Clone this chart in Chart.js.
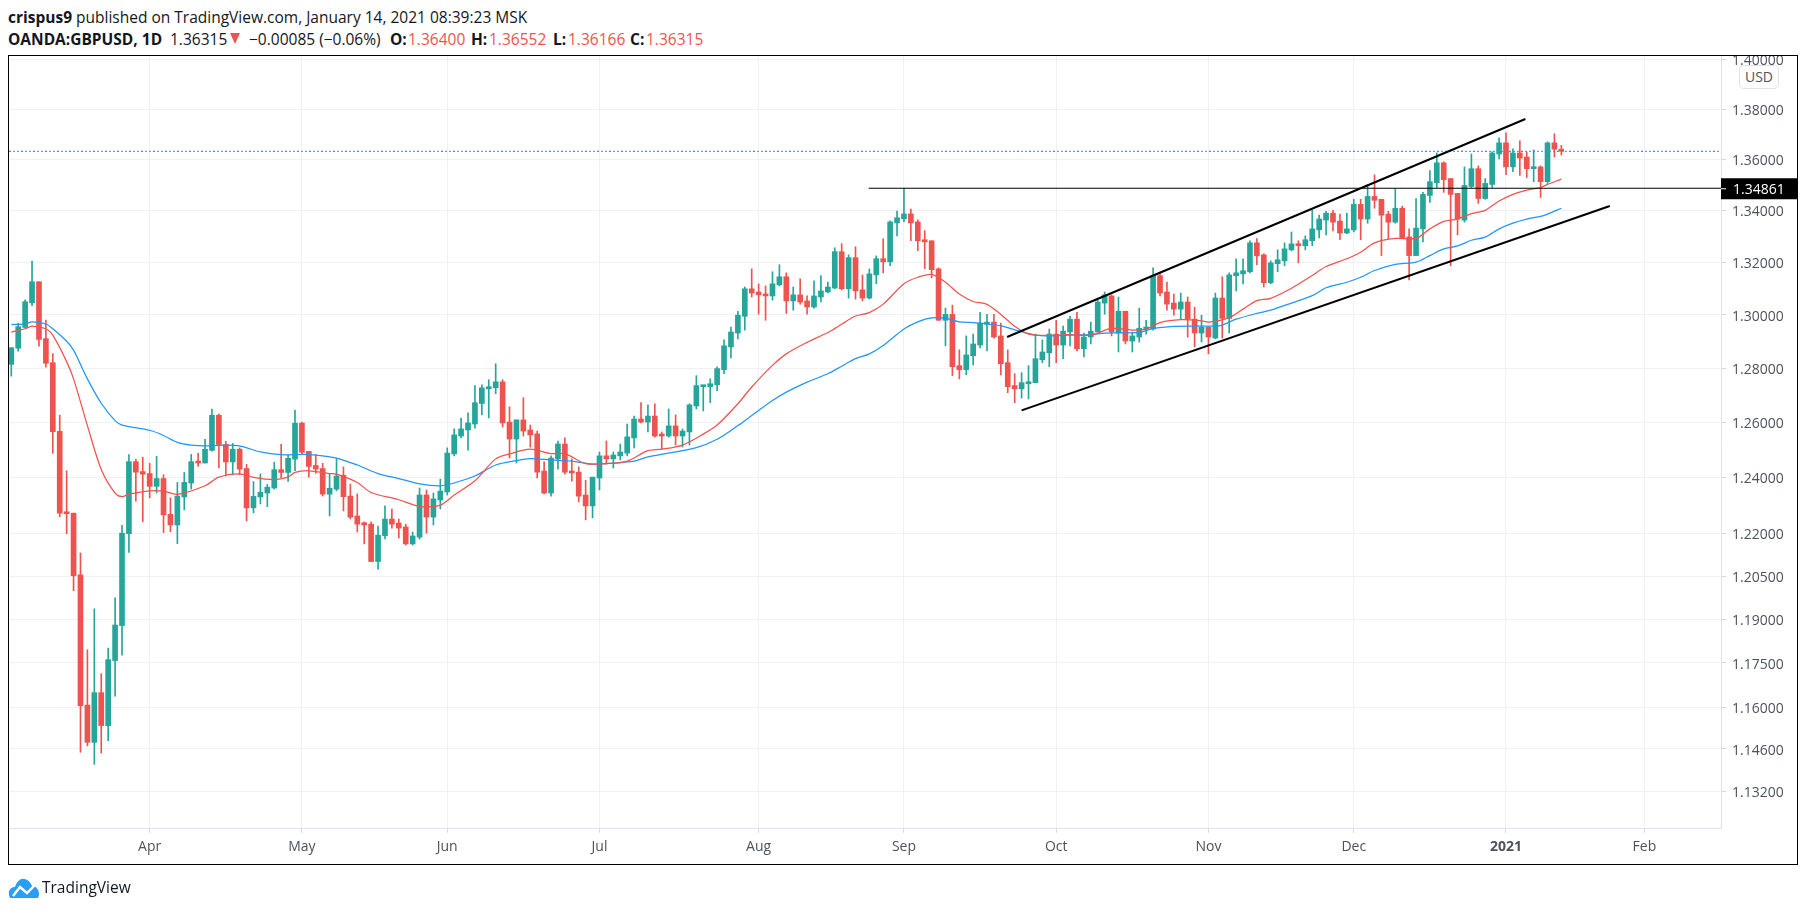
<!DOCTYPE html>
<html>
<head>
<meta charset="utf-8">
<title>GBPUSD</title>
<script src="https://cdn.jsdelivr.net/npm/chart.js@4/dist/chart.umd.min.js"></script>
<style>
html, body { margin: 0; padding: 0; background: #fff; width: 1805px; height: 911px; overflow: hidden; }
body { font-family: "Open Sans", sans-serif; color: #131722; position: relative; }
#chartBox { position: absolute; left: 0; top: 0; width: 1805px; height: 911px; }
#header { position: absolute; left: 0; top: 0; width: 1805px; height: 55px; background: #fff; font-size: 15.5px; white-space: nowrap; }
#line1 { position: absolute; left: 8px; top: 6px; }
#line2 span, #line2 b { position: absolute; top: 28px; }
#header b { font-weight: 700; }
.neg { color: #ef5350; }
#line2 .tri { top: 33px; width: 0; height: 0; border-left: 5px solid transparent; border-right: 5px solid transparent; border-top: 11px solid #ef5350; }
#frame { position: absolute; left: 8px; top: 55px; width: 1788px; height: 808px; border: 1px solid #000; pointer-events: none; }
#usd { position: absolute; left: 1739px; top: 65px; width: 38px; height: 22px; border: 1px solid #e0e3eb; border-radius: 5px; background: #fff; color: #4c525e; font-size: 14px; line-height: 22px; text-align: center; }
#logo { position: absolute; left: 8px; top: 876px; height: 22px; }
#logo svg { position: absolute; left: 0; top: 2px; }
#logo span { position: absolute; left: 34px; top: 0; font-size: 15.5px; line-height: 22px; color: #131722; }
</style>
</head>
<body>
<div id="chartBox"><canvas id="chart" width="1805" height="911"></canvas></div>
<div id="header">
  <div id="line1"><b>crispus9</b> published on TradingView.com, January 14, 2021 08:39:23 MSK</div>
  <div id="line2">
    <b style="left:8px">OANDA:GBPUSD, 1D</b>
    <span style="left:170px">1.36315</span>
    <span class="tri" style="left:230px"></span>
    <span style="left:249px">&minus;0.00085 (&minus;0.06%)</span>
    <b style="left:390px">O:</b><span class="neg" style="left:408px">1.36400</span>
    <b style="left:471px">H:</b><span class="neg" style="left:489px">1.36552</span>
    <b style="left:553px">L:</b><span class="neg" style="left:568px">1.36166</span>
    <b style="left:630px">C:</b><span class="neg" style="left:646px">1.36315</span>
  </div>
</div>
<div id="frame"></div>
<div id="usd">USD</div>
<div id="logo">
  <svg width="32" height="20" viewBox="0 0 32 20"><path d="M2 20 C-1 14 2 9 7 9 C9 3 13 0 16 1 C20 1 23 5 24 8 C29 8 33 14 30 20 Z" fill="#2a9df4"/><path d="M5 18 L12 9 L19 15 L27 7" fill="none" stroke="#fff" stroke-width="2.4"/></svg>
  <span>TradingView</span>
</div>
<script>
const opens = [
  1.2814,1.2874,1.2952,1.3045,1.3125,1.2910,1.2820,1.2567,1.2276,1.2272,
  1.2054,1.1607,1.1482,1.1649,1.1538,1.1758,1.1878,1.2199,1.2457,1.2421,
  1.2414,1.2368,1.2396,1.2268,1.2230,1.2330,1.2380,1.2457,1.2452,1.2498,
  1.2626,1.2519,1.2456,1.2502,1.2432,1.2291,1.2330,1.2344,1.2362,1.2428,
  1.2418,1.2466,1.2597,1.2494,1.2443,1.2432,1.2340,1.2358,1.2408,1.2333,
  1.2262,1.2238,1.2233,1.2101,1.2192,1.2251,1.2237,1.2223,1.2163,1.2187,
  1.2337,1.2258,1.2319,1.2348,1.2485,1.2550,1.2572,1.2594,1.2669,1.2723,
  1.2727,1.2749,1.2601,1.2539,1.2609,1.2572,1.2558,1.2423,1.2344,1.2467,
  1.2521,1.2423,1.2419,1.2337,1.2298,1.2398,1.2478,1.2467,1.2478,1.2488,
  1.2543,1.2612,1.2601,1.2623,1.2554,1.2550,1.2587,1.2550,1.2565,1.2660,
  1.2731,1.2731,1.2738,1.2794,1.2879,1.2931,1.2994,1.3098,1.3086,1.3078,
  1.3071,1.3113,1.3144,1.3052,1.3075,1.3052,1.3029,1.3067,1.3086,1.3101,
  1.3240,1.3098,1.3217,1.3094,1.3063,1.3151,1.3213,1.3201,1.3351,1.3367,
  1.3386,1.3355,1.3286,1.3282,1.3174,1.2979,1.3001,1.2809,1.2794,1.2846,
  1.2886,1.2964,1.2972,1.2920,1.2820,1.2735,1.2723,1.2742,1.2746,1.2831,
  1.2857,1.2927,1.2886,1.2935,1.2983,1.2872,1.2916,1.2935,1.3044,1.3071,
  1.2931,1.3013,1.2901,1.2916,1.2946,1.2946,1.3148,1.3086,1.3044,1.3021,
  1.3048,1.2983,1.2931,1.2953,1.2912,1.3063,1.2986,1.3148,1.3155,1.3163,
  1.3274,1.3228,1.3121,1.3194,1.3205,1.3247,1.3270,1.3263,1.3282,1.3324,
  1.3362,1.3389,1.3358,1.3312,1.3324,1.3423,1.3366,1.3454,1.3443,1.3385,
  1.3354,1.3408,1.3297,1.3225,1.3328,1.3458,1.3508,1.3586,1.3524,1.3466,
  1.3362,1.3493,1.3563,1.3446,1.3501,1.3621,1.3665,1.3570,1.3625,1.3609,
  1.3563,1.3570,1.3512,1.3665,1.3640
];
const highs = [
  1.2876,1.2968,1.3056,1.3204,1.3125,1.2980,1.2854,1.2626,1.2424,1.2272,
  1.2131,1.1795,1.1936,1.1713,1.1801,1.1974,1.2229,1.2483,1.2465,1.2473,
  1.2451,1.2476,1.2410,1.2327,1.2382,1.2418,1.2483,1.2487,1.2538,1.2649,
  1.2630,1.2531,1.2523,1.2507,1.2447,1.2385,1.2413,1.2375,1.2455,1.2520,
  1.2481,1.2645,1.2601,1.2494,1.2483,1.2451,1.2414,1.2468,1.2438,1.2376,
  1.2341,1.2241,1.2241,1.2226,1.2298,1.2287,1.2251,1.2233,1.2205,1.2362,
  1.2355,1.2344,1.2394,1.2507,1.2576,1.2616,1.2635,1.2735,1.2738,1.2757,
  1.2816,1.2757,1.2657,1.2609,1.2690,1.2590,1.2568,1.2456,1.2478,1.2532,
  1.2543,1.2467,1.2438,1.2390,1.2401,1.2492,1.2532,1.2492,1.2521,1.2594,
  1.2623,1.2672,1.2664,1.2668,1.2565,1.2649,1.2627,1.2576,1.2668,1.2772,
  1.2735,1.2760,1.2805,1.2905,1.2953,1.3013,1.3105,1.3174,1.3117,1.3109,
  1.3163,1.3190,1.3159,1.3105,1.3136,1.3071,1.3128,1.3148,1.3124,1.3255,
  1.3271,1.3228,1.3259,1.3151,1.3174,1.3224,1.3290,1.3359,1.3397,1.3486,
  1.3405,1.3363,1.3321,1.3282,1.3178,1.3025,1.3036,1.2868,1.2920,1.2927,
  1.3009,1.3001,1.3001,1.2968,1.2868,1.2779,1.2783,1.2809,1.2927,1.2905,
  1.2946,1.2979,1.2957,1.2994,1.3009,1.2931,1.2972,1.3055,1.3086,1.3075,
  1.3067,1.3013,1.2935,1.3025,1.2979,1.3178,1.3159,1.3124,1.3078,1.3082,
  1.3067,1.3028,1.2998,1.2953,1.3082,1.3144,1.3159,1.3213,1.3213,1.3282,
  1.3290,1.3232,1.3205,1.3247,1.3274,1.3316,1.3282,1.3301,1.3400,1.3381,
  1.3396,1.3400,1.3385,1.3389,1.3443,1.3443,1.3501,1.3539,1.3443,1.3396,
  1.3484,1.3416,1.3328,1.3446,1.3470,1.3555,1.3625,1.3590,1.3524,1.3466,
  1.3570,1.3621,1.3574,1.3524,1.3629,1.3685,1.3705,1.3641,1.3673,1.3629,
  1.3637,1.3574,1.3669,1.3701,1.36552
];
const lows = [
  1.2770,1.2863,1.2952,1.3034,1.2882,1.2803,1.2487,1.2259,1.2199,1.1999,
  1.1449,1.1470,1.1409,1.1446,1.1488,1.1637,1.1776,1.2133,1.2315,1.2242,
  1.2327,1.2344,1.2203,1.2206,1.2164,1.2284,1.2358,1.2440,1.2452,1.2495,
  1.2434,1.2405,1.2409,1.2410,1.2244,1.2273,1.2305,1.2295,1.2358,1.2399,
  1.2386,1.2424,1.2486,1.2401,1.2415,1.2333,1.2262,1.2352,1.2280,1.2251,
  1.2205,1.2163,1.2101,1.2074,1.2181,1.2219,1.2184,1.2159,1.2159,1.2180,
  1.2201,1.2230,1.2287,1.2337,1.2478,1.2543,1.2499,1.2579,1.2627,1.2616,
  1.2705,1.2583,1.2470,1.2452,1.2550,1.2510,1.2398,1.2341,1.2333,1.2430,
  1.2412,1.2387,1.2312,1.2248,1.2255,1.2355,1.2448,1.2434,1.2463,1.2478,
  1.2507,1.2598,1.2565,1.2546,1.2502,1.2546,1.2517,1.2510,1.2517,1.2649,
  1.2642,1.2672,1.2716,1.2779,1.2838,1.2909,1.2942,1.3067,1.3002,1.2979,
  1.3055,1.3109,1.3005,1.3017,1.3040,1.3002,1.3025,1.3048,1.3082,1.3098,
  1.3094,1.3063,1.3059,1.3052,1.3059,1.3117,1.3159,1.3186,1.3301,1.3355,
  1.3282,1.3244,1.3174,1.3140,1.2979,1.2883,1.2772,1.2760,1.2775,1.2812,
  1.2875,1.2864,1.2912,1.2775,1.2709,1.2672,1.2689,1.2686,1.2746,1.2820,
  1.2805,1.2820,1.2835,1.2883,1.2864,1.2842,1.2890,1.2935,1.3002,1.2920,
  1.2860,1.2890,1.2860,1.2897,1.2927,1.2942,1.3071,1.3017,1.2998,1.2983,
  1.2916,1.2879,1.2897,1.2853,1.2909,1.2912,1.2931,1.3090,1.3117,1.3159,
  1.3190,1.3105,1.3117,1.3163,1.3186,1.3243,1.3197,1.3247,1.3263,1.3293,
  1.3305,1.3320,1.3286,1.3309,1.3316,1.3286,1.3350,1.3408,1.3225,1.3290,
  1.3350,1.3290,1.3132,1.3225,1.3278,1.3431,1.3489,1.3470,1.3186,1.3305,
  1.3354,1.3489,1.3427,1.3443,1.3489,1.3601,1.3539,1.3551,1.3536,1.3528,
  1.3512,1.3450,1.3505,1.3609,1.36166
];
const closes = [
  1.2876,1.2955,1.3049,1.3125,1.2907,1.2818,1.2566,1.2272,1.2270,1.2051,
  1.1605,1.1482,1.1649,1.1538,1.1761,1.1880,1.2201,1.2457,1.2419,1.2412,
  1.2368,1.2396,1.2266,1.2230,1.2333,1.2382,1.2457,1.2452,1.2502,1.2626,
  1.2519,1.2456,1.2502,1.2430,1.2291,1.2332,1.2347,1.2365,1.2428,1.2418,
  1.2469,1.2597,1.2491,1.2440,1.2430,1.2340,1.2361,1.2405,1.2331,1.2258,
  1.2233,1.2230,1.2101,1.2194,1.2251,1.2233,1.2219,1.2163,1.2191,1.2337,
  1.2258,1.2323,1.2351,1.2488,1.2554,1.2576,1.2598,1.2672,1.2727,1.2731,
  1.2749,1.2598,1.2539,1.2609,1.2568,1.2554,1.2419,1.2344,1.2470,1.2521,
  1.2419,1.2416,1.2333,1.2298,1.2401,1.2478,1.2467,1.2481,1.2492,1.2547,
  1.2612,1.2601,1.2623,1.2550,1.2550,1.2587,1.2550,1.2568,1.2664,1.2735,
  1.2735,1.2742,1.2798,1.2883,1.2935,1.2998,1.3098,1.3082,1.3075,1.3071,
  1.3117,1.3144,1.3052,1.3075,1.3048,1.3029,1.3071,1.3090,1.3105,1.3240,
  1.3098,1.3217,1.3090,1.3063,1.3155,1.3213,1.3201,1.3355,1.3371,1.3386,
  1.3351,1.3282,1.3278,1.3171,1.2979,1.3001,1.2805,1.2794,1.2849,1.2890,
  1.2968,1.2972,1.2916,1.2816,1.2731,1.2723,1.2746,1.2749,1.2835,1.2860,
  1.2927,1.2886,1.2938,1.2983,1.2872,1.2916,1.2938,1.3048,1.3075,1.2935,
  1.3013,1.2901,1.2920,1.2949,1.2949,1.3148,1.3082,1.3040,1.3021,1.3048,
  1.2983,1.2931,1.2953,1.2916,1.3063,1.2986,1.3151,1.3159,1.3167,1.3274,
  1.3224,1.3121,1.3197,1.3209,1.3251,1.3270,1.3263,1.3286,1.3328,1.3366,
  1.3389,1.3354,1.3312,1.3328,1.3423,1.3366,1.3454,1.3439,1.3381,1.3354,
  1.3408,1.3293,1.3225,1.3331,1.3462,1.3512,1.3586,1.3520,1.3462,1.3366,
  1.3497,1.3563,1.3446,1.3505,1.3625,1.3665,1.3570,1.3625,1.3605,1.3563,
  1.3570,1.3512,1.3665,1.3640,1.36315
];

// moving averages, read at these bar numbers
const redBars = [0,2,3,5,6,8,9,11,13,15,16,17,20,22,24,28,30,33,35,38,40,41,43,46,47,50,52,56,59,62,64,67,70,72,75,78,80,83,86,89,92,94,97,100,102,105,107,110,112,115,118,120,122,124,126,129,131,133,135,137,139,141,143,145,147,150,153,156,159,162,164,166,169,172,173,176,178,180,182,185,188,190,193,195,197,200,203,205,207,209,211,213,215,217,219,221,222,224];
const redLine = [1.2934,1.2947,1.2957,1.2947,1.2923,1.2824,1.2760,1.2588,1.2429,1.2344,1.2331,1.2340,1.2352,1.2351,1.2339,1.2370,1.2401,1.2413,1.2400,1.2392,1.2401,1.2418,1.2424,1.2414,1.2412,1.2382,1.2346,1.2320,1.2296,1.2301,1.2337,1.2388,1.2467,1.2485,1.2502,1.2486,1.2486,1.2450,1.2450,1.2459,1.2497,1.2502,1.2517,1.2557,1.2590,1.2668,1.2730,1.2810,1.2853,1.2896,1.2933,1.2964,1.2995,1.3008,1.3040,1.3117,1.3142,1.3153,1.3123,1.3078,1.3050,1.3039,1.3001,1.2956,1.2927,1.2922,1.2925,1.2923,1.2948,1.2942,1.2946,1.2970,1.2981,1.2977,1.2972,1.2989,1.3021,1.3053,1.3062,1.3100,1.3149,1.3183,1.3213,1.3238,1.3274,1.3291,1.3291,1.3328,1.3357,1.3366,1.3387,1.3400,1.3436,1.3462,1.3479,1.3489,1.3501,1.3522];
const blueBars = [0,2,3,5,6,8,9,11,13,15,16,20,22,24,26,28,31,33,36,39,42,44,47,50,53,56,59,62,64,67,70,73,75,78,81,84,87,90,92,99,102,105,107,110,112,115,118,120,122,124,126,129,131,133,135,137,139,141,143,145,148,150,153,156,158,160,163,165,168,171,174,175,177,180,182,185,188,190,193,195,197,200,203,205,207,209,211,213,215,217,219,221,222,224];
const blueLine = [1.2963,1.2965,1.2973,1.2965,1.2947,1.2900,1.2867,1.2760,1.2670,1.2606,1.2590,1.2571,1.2552,1.2527,1.2517,1.2514,1.2517,1.2514,1.2492,1.2482,1.2483,1.2481,1.2470,1.2445,1.2414,1.2396,1.2377,1.2370,1.2380,1.2405,1.2445,1.2461,1.2468,1.2463,1.2459,1.2448,1.2452,1.2459,1.2474,1.2508,1.2538,1.2588,1.2625,1.2680,1.2711,1.2748,1.2779,1.2807,1.2835,1.2853,1.2884,1.2946,1.2973,1.2988,1.2986,1.2973,1.2970,1.2965,1.2958,1.2943,1.2923,1.2920,1.2923,1.2925,1.2931,1.2932,1.2933,1.2948,1.2956,1.2957,1.2957,1.2961,1.2983,1.3005,1.3017,1.3044,1.3072,1.3102,1.3123,1.3142,1.3168,1.3191,1.3200,1.3225,1.3251,1.3262,1.3284,1.3296,1.3328,1.3350,1.3366,1.3376,1.3385,1.3408];

// hand drawn lines on the chart: [bar, price]
const upperChannel = [[143.9, 1.2916], [218.8, 1.3760]];
const lowerChannel = [[146, 1.2644], [231, 1.3417]];
const levelStartBar = 123.9;
const levelPrice = 1.34861;
const lastPrice = 1.36315;

const priceTicks = [1.132,1.146,1.16,1.175,1.19,1.205,1.22,1.24,1.26,1.28,1.30,1.32,1.34,1.36,1.38,1.40];
const monthBars = [20,42,63,85,108,129,151,173,194,216,236];
const monthLabels = ['Apr','May','Jun','Jul','Aug','Sep','Oct','Nov','Dec','2021','Feb'];

const barMin = -0.33, barMax = 247.07;
const priceMin = 1.1205, priceMax = 1.4014;
const GREEN = '#26a69a', RED = '#ef5350', BLUE = '#2196f3';

const candleColors = opens.map((o, i) => closes[i] >= o ? GREEN : RED);
const toPoints = (xs, ys) => xs.map((x, i) => ({ x: x, y: ys[i] }));

const priceLabel = {
    id: 'priceLabel',
    afterDraw(chart) {
        const ctx = chart.ctx;
        const y = chart.scales.y.getPixelForValue(levelPrice);
        const right = chart.chartArea.right;
        ctx.save();
        ctx.fillStyle = '#000';
        ctx.fillRect(right, y - 10, 76, 21);
        ctx.fillStyle = '#fff';
        ctx.fillRect(right, y, 5, 1);
        ctx.font = '14px "Open Sans"';
        ctx.textBaseline = 'middle';
        ctx.fillText(levelPrice.toFixed(5), right + 12, y + 2);
        ctx.restore();
    }
};

new Chart(document.getElementById('chart'), {
    type: 'bar',
    data: {
        datasets: [
            {
                label: 'wicks',
                data: highs.map((h, i) => ({ x: i, y: [lows[i], h] })),
                backgroundColor: candleColors,
                barThickness: 1,
                grouped: false,
                order: 5
            },
            {
                label: 'bodies',
                data: opens.map((o, i) => ({ x: i, y: [o, closes[i]] })),
                backgroundColor: candleColors,
                barThickness: 5,
                minBarLength: 2,
                grouped: false,
                order: 4
            },
            {
                type: 'line', label: 'EMA 20', data: toPoints(redBars, redLine),
                borderColor: RED, borderWidth: 1.25, pointRadius: 0, tension: 0.3, order: 3
            },
            {
                type: 'line', label: 'EMA 50', data: toPoints(blueBars, blueLine),
                borderColor: BLUE, borderWidth: 1.25, pointRadius: 0, tension: 0.3, order: 3
            },
            {
                type: 'line', label: 'last blue', data: [{ x: barMin, y: lastPrice }, { x: barMax, y: lastPrice }],
                borderColor: BLUE, borderWidth: 1, borderDash: [2, 2], pointRadius: 0, order: 2
            },
            {
                type: 'line', label: 'last red', data: [{ x: barMin, y: lastPrice }, { x: barMax, y: lastPrice }],
                borderColor: RED, borderWidth: 1, borderDash: [2, 10], pointRadius: 0, order: 2
            },
            {
                type: 'line', label: 'upper channel', data: upperChannel.map(p => ({ x: p[0], y: p[1] })),
                borderColor: '#000', borderWidth: 2, pointRadius: 0, order: 1
            },
            {
                type: 'line', label: 'lower channel', data: lowerChannel.map(p => ({ x: p[0], y: p[1] })),
                borderColor: '#000', borderWidth: 2, pointRadius: 0, order: 1
            },
            {
                type: 'line', label: 'level', data: [{ x: levelStartBar, y: levelPrice }, { x: barMax, y: levelPrice }],
                borderColor: '#000', borderWidth: 1.2, pointRadius: 0, order: 1
            }
        ]
    },
    options: {
        responsive: false,
        animation: false,
        layout: { padding: { left: 9, top: 56, right: 8, bottom: 47 } },
        plugins: { legend: { display: false }, tooltip: { enabled: false } },
        scales: {
            x: {
                type: 'linear',
                min: barMin,
                max: barMax,
                offset: false,
                afterBuildTicks: s => { s.ticks = monthBars.map(v => ({ value: v })); },
                afterFit: s => { s.height = 36; },
                grid: { color: '#f0f1f4', offset: false, tickLength: 5, tickColor: '#d6d8de' },
                border: { color: '#e0e3eb' },
                ticks: {
                    autoSkip: false,
                    maxRotation: 0,
                    color: '#4c525e',
                    padding: 6,
                    font: ctx => ({ family: 'Open Sans', size: 14, weight: monthBars[ctx.index] === 216 ? 'bold' : 'normal' }),
                    callback: v => monthLabels[monthBars.indexOf(v)]
                }
            },
            y: {
                type: 'logarithmic',
                position: 'right',
                min: priceMin,
                max: priceMax,
                afterBuildTicks: s => { s.ticks = priceTicks.map(v => ({ value: v })); },
                afterFit: s => { s.width = 76; },
                grid: { color: '#f0f1f4', tickLength: 5, tickColor: '#d6d8de' },
                border: { color: '#e0e3eb' },
                ticks: {
                    autoSkip: false,
                    color: '#4c525e',
                    padding: 6,
                    // blank first line with a small line height nudges the labels 2px down
                    font: { family: 'Open Sans', size: 14, lineHeight: '4px' },
                    callback: v => ['', v.toFixed(5)]
                }
            }
        }
    },
    plugins: [priceLabel]
});
</script>
</body>
</html>
